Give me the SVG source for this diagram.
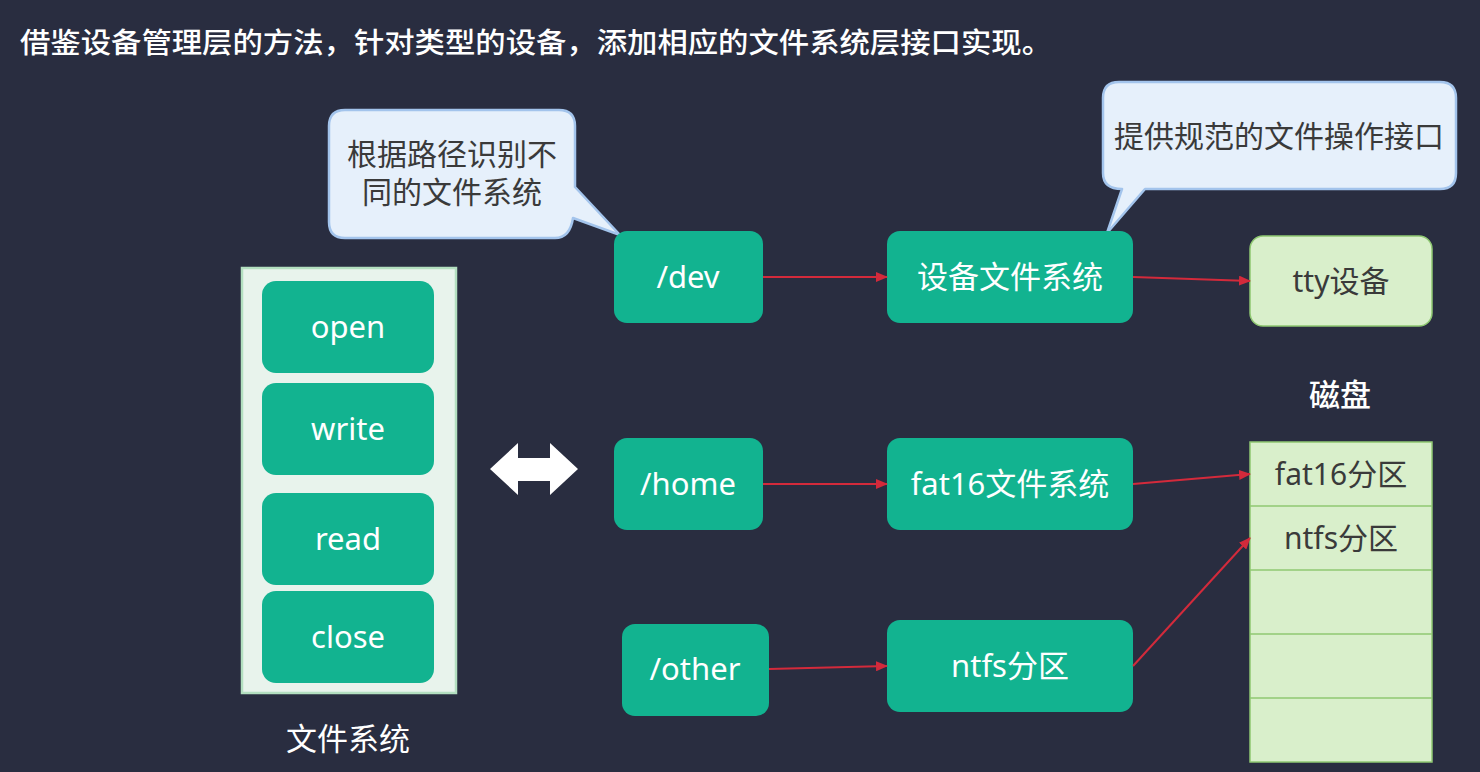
<svg xmlns="http://www.w3.org/2000/svg" width="1480" height="772" viewBox="0 0 1480 772">
<defs>
<style>
.t{font-family:"Noto Sans","Noto Sans CJK SC",sans-serif;}
.w{fill:#ffffff;font-size:31px;text-anchor:middle;}
.d{fill:#3a3a3a;font-size:30px;text-anchor:middle;}
.node{fill:#12b390;}
.lg{fill:#d9efcb;stroke:#8fc872;stroke-width:1.5;}
.call{fill:#e6f0fb;stroke:#a3c4ec;stroke-width:2.5;stroke-linejoin:round;}
.con{stroke:#d32a3b;stroke-width:2;fill:none;marker-end:url(#ah);}
</style>
<marker id="ah" viewBox="0 0 12 10" refX="11" refY="5" markerWidth="12" markerHeight="10" markerUnits="userSpaceOnUse" orient="auto">
<path d="M0,0 L12,5 L0,10 Z" fill="#d32a3b"/>
</marker>
</defs>
<rect width="1480" height="772" fill="#292d40"/>
<text class="t" x="20" y="53" fill="#ffffff" font-size="28.5" font-weight="500" textLength="1032" lengthAdjust="spacingAndGlyphs">借鉴设备管理层的方法，针对类型的设备，添加相应的文件系统层接口实现。</text>

<g id="callout-path">
<path class="call" d="M345,110 H559 Q575,110 575,126 V187 L620,235 L573,218 Q570,238 555,238 H345 Q329,238 329,222 V126 Q329,110 345,110 Z"/>
<text class="t d" x="452" y="165" font-size="29">根据路径识别不</text>
<text class="t d" x="452" y="203" font-size="29">同的文件系统</text>
</g>

<g id="callout-interface">
<path class="call" d="M1119,82 H1440 Q1456,82 1456,98 V173 Q1456,189 1440,189 H1145 L1107,233 L1122,189 Q1103,189 1103,173 V98 Q1103,82 1119,82 Z"/>
<text class="t d" x="1279" y="147">提供规范的文件操作接口</text>
</g>

<g id="filesystem">
<rect x="242" y="268" width="214" height="425" fill="#e8f3ec" stroke="#b3dfc0" stroke-width="2.5"/>
<g id="op-open"><rect class="node" x="262" y="281" width="172" height="92" rx="14"/><text class="t w" x="348" y="338">open</text></g>
<g id="op-write"><rect class="node" x="262" y="383" width="172" height="92" rx="14"/><text class="t w" x="348" y="440">write</text></g>
<g id="op-read"><rect class="node" x="262" y="493" width="172" height="92" rx="14"/><text class="t w" x="348" y="550">read</text></g>
<g id="op-close"><rect class="node" x="262" y="591" width="172" height="92" rx="14"/><text class="t w" x="348" y="648">close</text></g>
<text class="t w" x="348" y="750" font-size="30">文件系统</text>
</g>

<g id="double-arrow">
<polygon points="490,469 518,443 518,458 550,458 550,443 578,469 550,495 550,481 518,481 518,495" fill="#ffffff"/>
</g>

<g id="n-dev"><rect class="node" x="614" y="231" width="149" height="92" rx="13"/><text class="t w" x="688" y="288">/dev</text></g>
<g id="n-devfs"><rect class="node" x="887" y="231" width="246" height="92" rx="13"/><text class="t w" x="1010" y="288">设备文件系统</text></g>
<g id="n-tty"><rect class="lg" x="1250" y="236" width="182" height="90" rx="13"/><text class="t d" x="1341" y="292" font-size="31">tty设备</text></g>
<g id="n-home"><rect class="node" x="614" y="438" width="149" height="92" rx="13"/><text class="t w" x="688" y="495">/home</text></g>
<g id="n-fat16fs"><rect class="node" x="887" y="438" width="246" height="92" rx="13"/><text class="t w" x="1010" y="495">fat16文件系统</text></g>
<g id="n-other"><rect class="node" x="622" y="624" width="147" height="92" rx="13"/><text class="t w" x="695" y="680">/other</text></g>
<g id="n-ntfs"><rect class="node" x="887" y="620" width="246" height="92" rx="13"/><text class="t w" x="1010" y="677">ntfs分区</text></g>

<g id="disk">
<text class="t w" x="1340" y="406" font-size="29" font-weight="500">磁盘</text>
<rect class="lg" x="1250" y="442" width="182" height="320"/>
<line x1="1250" y1="506" x2="1432" y2="506" stroke="#8fc872" stroke-width="1.5"/>
<line x1="1250" y1="570" x2="1432" y2="570" stroke="#8fc872" stroke-width="1.5"/>
<line x1="1250" y1="634" x2="1432" y2="634" stroke="#8fc872" stroke-width="1.5"/>
<line x1="1250" y1="698" x2="1432" y2="698" stroke="#8fc872" stroke-width="1.5"/>
<text class="t d" x="1341" y="485">fat16分区</text>
<text class="t d" x="1341" y="549">ntfs分区</text>
</g>

<g id="connectors">
<line class="con" x1="763" y1="277" x2="887" y2="277"/>
<line class="con" x1="1133" y1="277" x2="1250" y2="281"/>
<line class="con" x1="763" y1="484" x2="887" y2="484"/>
<line class="con" x1="1133" y1="484" x2="1250" y2="474"/>
<line class="con" x1="769" y1="669" x2="887" y2="666"/>
<line class="con" x1="1133" y1="666" x2="1250" y2="538"/>
</g>
</svg>
